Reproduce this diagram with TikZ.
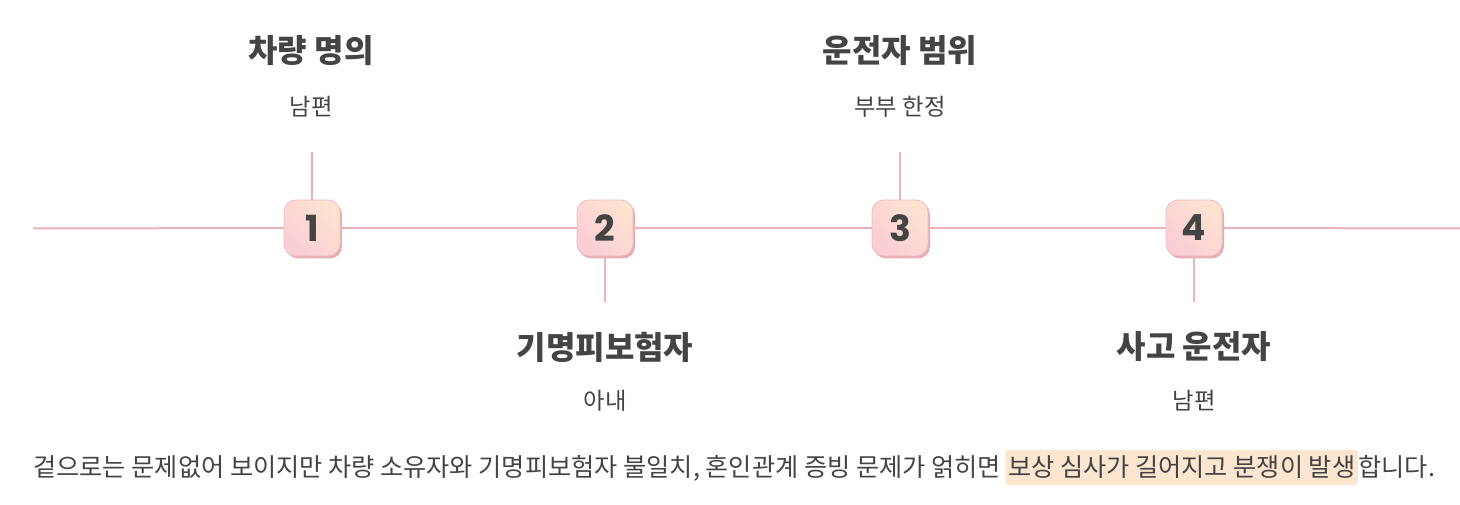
\documentclass[tikz,border=0pt]{standalone}
\usepackage{fontspec}
\setmainfont{Noto Sans CJK KR}
\newfontfamily\numfont{Poppins}
\definecolor{linepk}{HTML}{E8B4BA}
\definecolor{txt}{HTML}{444444}
\definecolor{boxpk}{HTML}{FBCDD6}
\definecolor{boxpc}{HTML}{FDE3D0}
\definecolor{boxbd}{HTML}{EFBCC2}
\definecolor{shad}{HTML}{E6AEB4}
\definecolor{hl}{HTML}{FDE6D0}
\begin{document}
\begin{tikzpicture}[x=0.75pt,y=-0.75pt,
  conn/.style={draw=linepk,line width=1.5pt},
  numbox/.style={minimum width=42pt,minimum height=42pt,inner sep=0pt,rounded corners=9pt,
     draw=boxbd,line width=0.6pt,bottom color=boxpk,top color=boxpc,shading angle=-45,
     font=\numfont\fontsize{27}{30}\selectfont\bfseries,text=txt},
  shadbox/.style={minimum width=42pt,minimum height=42pt,inner sep=0pt,rounded corners=9pt,fill=shad},
  ttl/.style={font=\fontsize{24}{27}\selectfont\bfseries,text=txt,inner sep=0pt},
  sub/.style={font=\fontsize{17.5}{20}\selectfont,text=txt,inner sep=0pt},
  body/.style={font=\fontsize{18.9}{22}\selectfont,text=txt,inner ysep=0pt,inner xsep=0pt,anchor=base west},
]
\useasboundingbox (0,0) rectangle (1460,505);
% shadows
\foreach \x/\n in {312/1,605/2,900/3,1194/4}{
  \node[shadbox] (s\n) at (\x+2,228+2.5) {};
}
% boxes
\node[numbox] (b1) at (312,228) {1};
\node[numbox] (b2) at (605,228) {2};
\node[numbox] (b3) at (900,228) {3};
\node[numbox] (b4) at (1194,228) {4};
% main line
\coordinate (ls) at (33,228.5);
\coordinate (le) at (1460,228.5);
\draw[conn] (ls) -- (b1.west);
\draw[conn] (b1.east) -- (b2.west);
\draw[conn] (b2.east) -- (b3.west);
\draw[conn] (b3.east) -- (b4.west);
\draw[conn] (b4.east) -- (le);
% stems
\coordinate (t1) at (312,152);
\coordinate (t2) at (605,302);
\coordinate (t3) at (900,152);
\coordinate (t4) at (1194,302);
\draw[conn] (b1.north) -- (t1);
\draw[conn] (b2.south) -- (t2);
\draw[conn] (b3.north) -- (t3);
\draw[conn] (b4.south) -- (t4);
% labels
\node[ttl] (h1) at (311,51) {차량 명의};
\node[sub] (d1) at (311,107) {남편};
\node[ttl] (h2) at (605,347) {기명피보험자};
\node[sub] (d2) at (605,401) {아내};
\node[ttl] (h3) at (900,51) {운전자 범위};
\node[sub] (d3) at (900,107) {부부 한정};
\node[ttl] (h4) at (1194,347) {사고 운전자};
\node[sub] (d4) at (1194,401) {남편};
% bottom text
\node[body] (p1) at (33,477) {겉으로는 문제없어 보이지만 차량 소유자와 기명피보험자 불일치, 혼인관계 증빙 문제가 얽히면};
\node[body,fill=hl,rounded corners=2pt,inner xsep=2pt,inner ysep=4.5pt] (p2) at ([xshift=3pt]p1.base east) {보상 심사가 길어지고 분쟁이 발생};
\node[body] (p3) at (p2.base east) {합니다.};
\end{tikzpicture}
\end{document}
